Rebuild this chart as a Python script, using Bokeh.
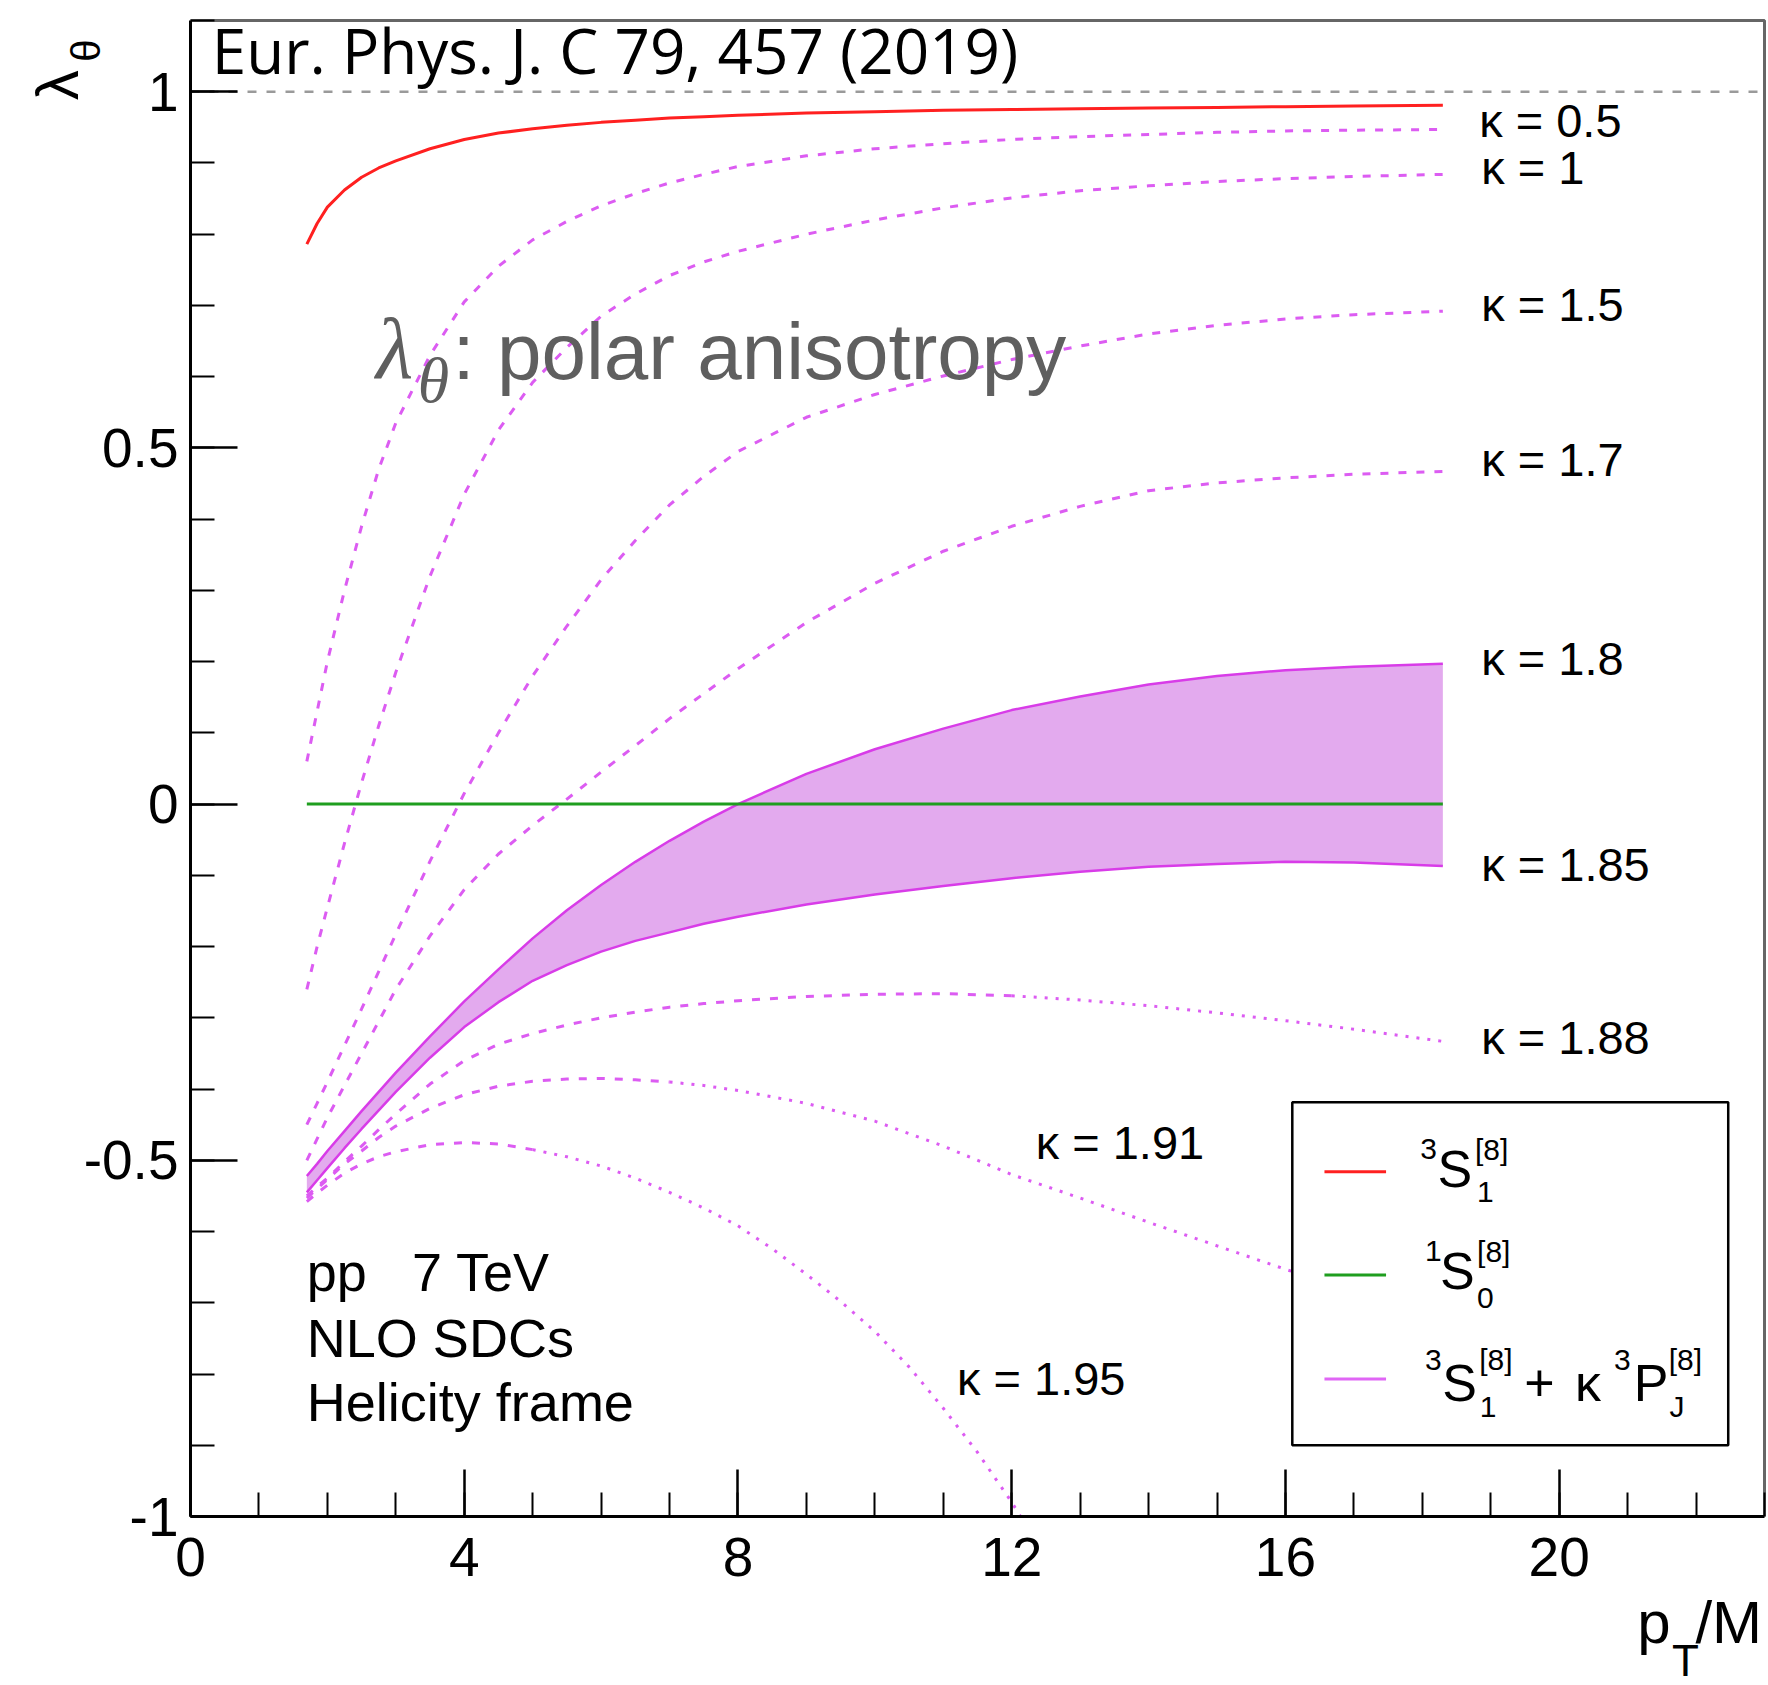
from bokeh.plotting import figure
from bokeh.models import Range1d, FixedTicker, CustomJSTickFormatter, Label
from bokeh.embed import file_html
from bokeh.resources import INLINE

# ---------------- data ----------------
pt = [1.7, 1.85, 2.0, 2.25, 2.5, 2.75, 3.0, 3.5, 4.0, 4.5, 5.0, 5.5, 6.0, 6.5, 7.0, 7.5,
      8.0, 9.0, 10.0, 11.0, 12.0, 13.0, 14.0, 15.0, 16.0, 17.0, 18.3]

lam_3s1 = [0.786, 0.815, 0.838, 0.862, 0.880, 0.893, 0.903, 0.920, 0.933, 0.942, 0.948, 0.953,
           0.957, 0.960, 0.963, 0.965, 0.967, 0.970, 0.972, 0.974, 0.975, 0.976, 0.977, 0.978,
           0.979, 0.980, 0.981]
pt_1s0 = [1.7, 18.3]
lam_1s0 = [0.0, 0.0]

lam_k05 = [0.06, 0.13, 0.20, 0.30, 0.39, 0.47, 0.535, 0.63, 0.705, 0.755, 0.792, 0.818,
           0.84, 0.857, 0.872, 0.884, 0.895, 0.91, 0.92, 0.927, 0.933, 0.937, 0.94, 0.943,
           0.945, 0.946, 0.947]
lam_k10 = [-0.26, -0.20, -0.145, -0.055, 0.03, 0.11, 0.185, 0.32, 0.435, 0.525, 0.592, 0.641,
           0.685, 0.716, 0.742, 0.761, 0.776, 0.80, 0.82, 0.837, 0.851, 0.861, 0.868, 0.874,
           0.878, 0.881, 0.884]
lam_k15 = [-0.45, -0.42, -0.39, -0.339, -0.2875, -0.235, -0.1825, -0.08, 0.015, 0.10, 0.18, 0.25,
           0.315, 0.37, 0.42, 0.46, 0.495, 0.543, 0.575, 0.601, 0.624, 0.643, 0.66, 0.672,
           0.681, 0.687, 0.692]
lam_k17 = [-0.50, -0.47, -0.44, -0.395, -0.35, -0.305, -0.26, -0.185, -0.12, -0.07, -0.03, 0.007,
           0.045, 0.082, 0.12, 0.155, 0.19, 0.255, 0.31, 0.355, 0.39, 0.418, 0.44, 0.451,
           0.458, 0.463, 0.467]
lam_k18 = [-0.522, -0.505, -0.487, -0.459, -0.431, -0.404, -0.377, -0.326, -0.277, -0.232, -0.1885,
           -0.149, -0.1135, -0.081, -0.0515, -0.0245, 0.0, 0.0425, 0.077, 0.106, 0.132, 0.151,
           0.168, 0.18, 0.188, 0.193, 0.197]
lam_k185 = [-0.545, -0.528, -0.511, -0.483, -0.456, -0.430, -0.404, -0.356, -0.313, -0.278, -0.248,
            -0.226, -0.207, -0.192, -0.180, -0.168, -0.158, -0.141, -0.127, -0.115, -0.104,
            -0.095, -0.088, -0.084, -0.081, -0.082, -0.087]
lam_k188 = [-0.55, -0.537, -0.525, -0.502, -0.48, -0.457, -0.435, -0.393, -0.36, -0.337, -0.322,
            -0.31, -0.30, -0.292, -0.285, -0.28, -0.276, -0.27, -0.267, -0.266, -0.269, -0.275,
            -0.283, -0.293, -0.304, -0.316, -0.333]
lam_k191 = [-0.553, -0.54, -0.527, -0.505, -0.487, -0.468, -0.452, -0.427, -0.408, -0.396, -0.389,
            -0.386, -0.385, -0.387, -0.39, -0.395, -0.402, -0.42, -0.445, -0.48, -0.52, -0.553,
            -0.587, -0.62, -0.653, -0.684, -0.725]
pt_k195 = [1.7, 1.85, 2.0, 2.25, 2.5, 2.75, 3.0, 3.5, 4.0, 4.5, 5.0, 5.5, 6.0, 6.5, 7.0, 7.5,
           8.0, 8.5, 9.0, 9.5, 10.0, 10.5, 11.0, 11.5, 12.0, 12.13]
lam_k195 = [-0.558, -0.546, -0.535, -0.518, -0.505, -0.495, -0.488, -0.478, -0.475, -0.477, -0.485,
            -0.495, -0.508, -0.525, -0.545, -0.567, -0.592, -0.624, -0.66, -0.698, -0.74, -0.79,
            -0.848, -0.91, -0.98, -1.0]

kappa_labels = ["0.5", "1", "1.5", "1.7", "1.8", "1.85", "1.88", "1.91", "1.95"]

X_MIN, X_MAX = 0, 23
Y_MIN, Y_MAX = -1, 1.1
x_ticks = [0, 4, 8, 12, 16, 20]
x_minor = [i for i in range(0, 24)]
y_ticks = [-1, -0.5, 0, 0.5, 1]
y_minor = [round(-1 + 0.1 * i, 1) for i in range(0, 22)]

# ---------------- figure ----------------
W_PX, H_PX = 1768, 1685
LEFT, RIGHT, TOP, BOTTOM = 190, 4, 20, 169          # margins round the drawn frame
X_PX = (W_PX - LEFT - RIGHT) / (X_MAX - X_MIN)
Y_PX = (H_PX - TOP - BOTTOM) / (Y_MAX - Y_MIN)

p = figure(width=W_PX, height=H_PX,
           x_range=Range1d(X_MIN - LEFT / X_PX, X_MAX + RIGHT / X_PX),
           y_range=Range1d(Y_MIN - BOTTOM / Y_PX, Y_MAX + TOP / Y_PX),
           output_backend="svg", toolbar_location=None, min_border=0)
p.xgrid.visible = False
p.ygrid.visible = False
p.outline_line_color = None
p.background_fill_color = "white"
p.border_fill_color = "white"

fmt = CustomJSTickFormatter(code="return String(tick);")
for ax, ticks, minor, loc, bnds in ((p.xaxis[0], x_ticks, x_minor, Y_MIN, (X_MIN, X_MAX)),
                                    (p.yaxis[0], y_ticks, y_minor, X_MIN, (Y_MIN, Y_MAX))):
    ax.fixed_location = loc
    ax.bounds = bnds
    ax.ticker = FixedTicker(ticks=ticks, minor_ticks=minor)
    ax.formatter = fmt
    ax.major_tick_in = 47
    ax.major_tick_out = 0
    ax.minor_tick_in = 24
    ax.minor_tick_out = 0
    ax.axis_line_color = "black"
    ax.axis_line_width = 3
    ax.major_tick_line_width = 2.5
    ax.minor_tick_line_width = 2
    ax.major_tick_line_color = "black"
    ax.minor_tick_line_color = "black"
    ax.major_label_text_font = "Liberation Sans"
    ax.major_label_text_font_size = "55px"
    ax.major_label_text_color = "black"
p.xaxis[0].major_label_standoff = 21
p.yaxis[0].major_label_standoff = 12

# top / right frame lines and the dashed reference line at 1
p.line([X_MIN, X_MAX, X_MAX], [Y_MAX, Y_MAX, Y_MIN], line_color="#666666", line_width=3)
p.line([X_MIN, X_MAX], [1, 1], line_color="#9a9a9a", line_width=2.5, line_dash="9 10")

MAG = "#dc5cf2"
DASH = "8 10"
DOT = "3 8"
W = 3
for ys in (lam_k05, lam_k10, lam_k15, lam_k17):
    p.line(pt, ys, line_color=MAG, line_width=W, line_dash=DASH)
p.line(pt[:21], lam_k188[:21], line_color=MAG, line_width=W, line_dash=DASH)
p.line(pt[20:], lam_k188[20:], line_color=MAG, line_width=W, line_dash=DOT)
p.line(pt[:15], lam_k191[:15], line_color=MAG, line_width=W, line_dash=DASH)
p.line(pt[14:], lam_k191[14:], line_color=MAG, line_width=W, line_dash=DOT)
p.line(pt_k195[:11], lam_k195[:11], line_color=MAG, line_width=W, line_dash=DASH)
p.line(pt_k195[10:], lam_k195[10:], line_color=MAG, line_width=W, line_dash=DOT)

# band 1.8 .. 1.85
p.varea(x=pt, y1=lam_k185, y2=lam_k18, fill_color="#e3aaee")
p.line(pt, lam_k18, line_color="#d83ce8", line_width=2.5)
p.line(pt, lam_k185, line_color="#d83ce8", line_width=2.5)

p.line(pt_1s0, lam_1s0, line_color="#1f9e1f", line_width=3)
p.line(pt, lam_3s1, line_color="#ff2020", line_width=3)

BASE_FIX = 0.38    # baseline correction (in em)


def lab(text, x, y, size, font="Liberation Sans", color="black", style="normal", rot=False):
    if rot:
        x = x - BASE_FIX * size / X_PX
        ang = 1.5707963
    else:
        y = y + BASE_FIX * size / Y_PX
        ang = 0.0
    p.add_layout(Label(x=x, y=y, text=text, text_font=font,
                       text_font_size=f"{size}px", text_color=color, angle=ang,
                       text_font_style=style, text_align="left",
                       text_baseline="alphabetic"))


# kappa labels
kpos = [(18.83, 0.934), (18.86, 0.868), (18.86, 0.676), (18.86, 0.458), (18.86, 0.180),
        (18.86, -0.110), (18.86, -0.353), (12.35, -0.500), (11.20, -0.831)]
for k, (kx, ky) in zip(kappa_labels, kpos):
    lab("\u03ba = " + k, kx, ky, 47)

# header / annotations
lab("Eur. Phys. J. C 79, 457 (2019)", 0.31, 1.026, 62, font="Open Sans")
lab("\u03bb", 2.71, 0.593, 86, font="Liberation Serif", color="#5f5f5f", style="italic")
lab("\u03b8", 3.32, 0.560, 64, font="Liberation Serif", color="#5f5f5f", style="italic")
lab(": polar anisotropy", 3.83, 0.593, 80, color="#5f5f5f")

lab("pp\u00a0\u00a0\u00a07 TeV", 1.70, -0.686, 54)
lab("NLO SDCs", 1.70, -0.778, 54)
lab("Helicity frame", 1.70, -0.868, 54)

# axis titles
lab("\u03bb", -1.61, 0.988, 60, rot=True)
lab("\u03b8", -1.30, 1.042, 40, rot=True)
lab("p", 21.14, -1.181, 60)
lab("T", 21.65, -1.226, 44)
lab("/M", 21.99, -1.181, 60)

# legend
p.quad(left=16.10, right=22.47, top=-0.4185, bottom=-0.900, fill_color="white",
       line_color="black", line_width=2.5)
for yy, col in ((-0.516, "#ff2020"), (-0.661, "#1f9e1f"), (-0.807, "#e066f5")):
    p.line([16.57, 17.47], [yy, yy], line_color=col, line_width=3)

lab("3", 17.97, -0.5005, 30)
lab("S", 18.22, -0.540, 52)
lab("[8]", 18.77, -0.5005, 30)
lab("1", 18.80, -0.560, 30)

lab("1", 18.04, -0.644, 30)
lab("S", 18.26, -0.683, 52)
lab("[8]", 18.80, -0.644, 30)
lab("0", 18.80, -0.7086, 30)

lab("3", 18.04, -0.7957, 30)
lab("S", 18.29, -0.8407, 52)
lab("[8]", 18.83, -0.7957, 30)
lab("1", 18.84, -0.8618, 30)
lab("+", 19.49, -0.8407, 52)
lab("\u03ba", 20.23, -0.8407, 52)
lab("3", 20.80, -0.7957, 30)
lab("P", 21.09, -0.8407, 52)
lab("[8]", 21.60, -0.7957, 30)
lab("J", 21.61, -0.8618, 30)

open("out.html", "w").write(file_html(p, INLINE))
